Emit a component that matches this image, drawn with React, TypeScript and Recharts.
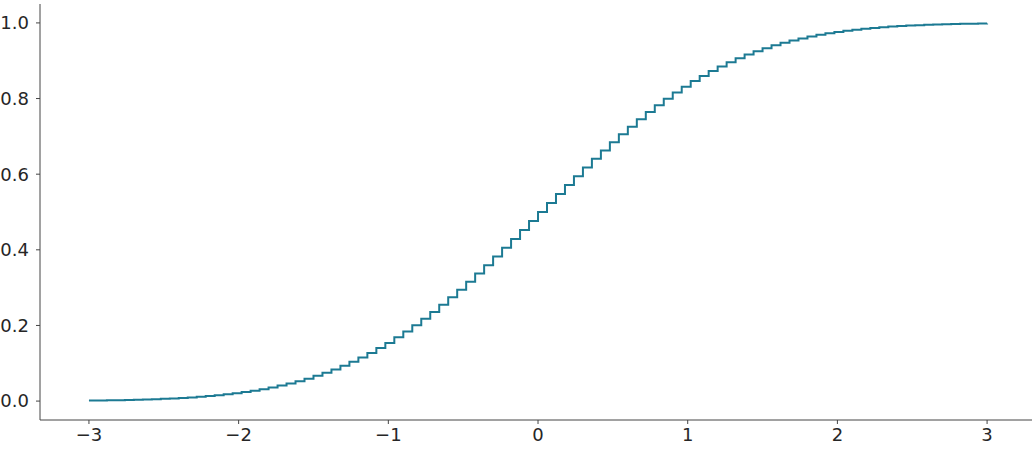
import { LineChart, Line, XAxis, YAxis } from "recharts";

// grid of x positions (0.06 apart, -3 to 3)
const xs = [
  -3.0, -2.94, -2.88, -2.82, -2.76, -2.7, -2.64, -2.58, -2.52, -2.46,
  -2.4, -2.34, -2.28, -2.22, -2.16, -2.1, -2.04, -1.98, -1.92, -1.86,
  -1.8, -1.74, -1.68, -1.62, -1.56, -1.5, -1.44, -1.38, -1.32, -1.26,
  -1.2, -1.14, -1.08, -1.02, -0.96, -0.9, -0.84, -0.78, -0.72, -0.66,
  -0.6, -0.54, -0.48, -0.42, -0.36, -0.3, -0.24, -0.18, -0.12, -0.06,
  0.0, 0.06, 0.12, 0.18, 0.24, 0.3, 0.36, 0.42, 0.48, 0.54,
  0.6, 0.66, 0.72, 0.78, 0.84, 0.9, 0.96, 1.02, 1.08, 1.14,
  1.2, 1.26, 1.32, 1.38, 1.44, 1.5, 1.56, 1.62, 1.68, 1.74,
  1.8, 1.86, 1.92, 1.98, 2.04, 2.1, 2.16, 2.22, 2.28, 2.34,
  2.4, 2.46, 2.52, 2.58, 2.64, 2.7, 2.76, 2.82, 2.88, 2.94,
  3.0,
];

// cumulative level at each step
const levels = [
  0.0014, 0.0016, 0.002, 0.0024, 0.0029, 0.0035, 0.0042, 0.0049, 0.0059, 0.007,
  0.0082, 0.0096, 0.0113, 0.0132, 0.0154, 0.0179, 0.0207, 0.0239, 0.0274, 0.0314,
  0.0359, 0.0409, 0.0465, 0.0526, 0.0594, 0.0668, 0.0749, 0.0838, 0.0934, 0.1038,
  0.1151, 0.1271, 0.1401, 0.1539, 0.1685, 0.1841, 0.2005, 0.2177, 0.2358, 0.2546,
  0.2743, 0.2946, 0.3156, 0.3372, 0.3594, 0.3821, 0.4052, 0.4286, 0.4522, 0.4761,
  0.5, 0.5239, 0.5478, 0.5714, 0.5948, 0.6179, 0.6406, 0.6628, 0.6844, 0.7054,
  0.7257, 0.7454, 0.7642, 0.7823, 0.7995, 0.8159, 0.8315, 0.8461, 0.8599, 0.8729,
  0.8849, 0.8962, 0.9066, 0.9162, 0.9251, 0.9332, 0.9406, 0.9474, 0.9535, 0.9591,
  0.9641, 0.9686, 0.9726, 0.9761, 0.9793, 0.9821, 0.9846, 0.9868, 0.9887, 0.9904,
  0.9918, 0.9931, 0.9941, 0.9951, 0.9959, 0.9965, 0.9971, 0.9976, 0.998, 0.9984,
  0.9987,
];

const xTicks = [-3, -2, -1, 0, 1, 2, 3];
const yTicks = [0, 0.2, 0.4, 0.6, 0.8, 1.0];

const data = xs.map((x, i) => ({ x, y: levels[i] }));

const AXIS = "#444444";
const TEXT = "#262626";
const FONT = "'DejaVu Sans', sans-serif";
const tickStyle = { fill: TEXT, fontSize: 18, fontFamily: FONT };

export default function App() {
  return (
    <div
      style={{
        position: "absolute",
        left: 0,
        top: 0,
        background: "#fff",
        fontFamily: FONT,
        fontSize: 18,
      }}
    >
      <LineChart
        width={1035}
        height={450}
        data={data}
        margin={{ top: 4, right: 3, bottom: 0, left: 0 }}
      >
        <XAxis
          type="number"
          dataKey="x"
          domain={[-3.327, 3.3]}
          allowDataOverflow
          ticks={xTicks}
          tickFormatter={(v: number) => String(v).replace("-", "\u2212")}
          height={30}
          stroke={AXIS}
          tickSize={4}
          tickMargin={4}
          fontSize={18}
          tick={tickStyle}
        />
        <YAxis
          type="number"
          domain={[-0.05, 1.05]}
          allowDataOverflow
          ticks={yTicks}
          tickFormatter={(v: number) => v.toFixed(1)}
          width={40}
          stroke={AXIS}
          tickSize={4}
          tickMargin={7}
          fontSize={18}
          tick={tickStyle}
        />
        <Line
          type="stepAfter"
          dataKey="y"
          stroke="#1c7a93"
          strokeWidth={2}
          dot={false}
          isAnimationActive={false}
        />
      </LineChart>
    </div>
  );
}
